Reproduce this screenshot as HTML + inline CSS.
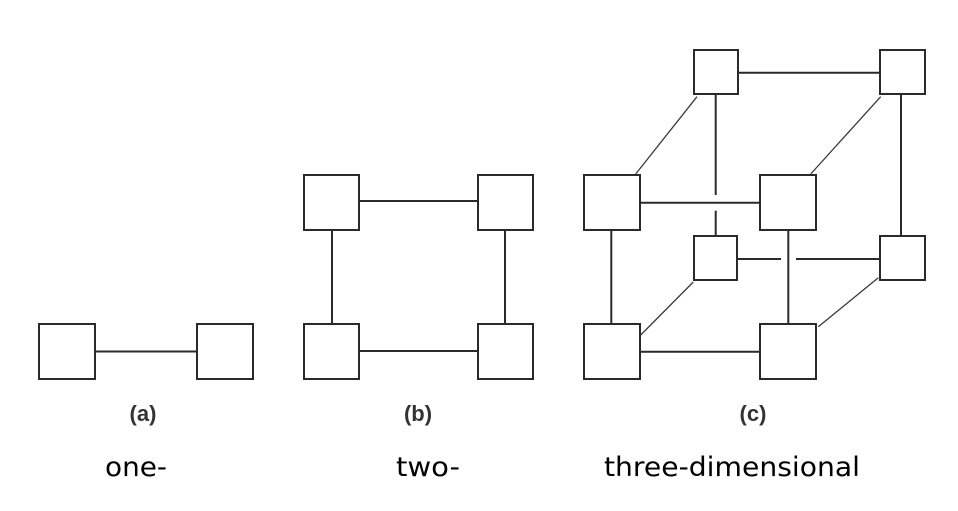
<!DOCTYPE html>
<html><head><meta charset="utf-8"><style>
html,body{margin:0;padding:0;background:#fff;}
svg{display:block;}
</style></head><body>
<svg width="958" height="511" viewBox="0 0 958 511" xmlns="http://www.w3.org/2000/svg">
<rect width="958" height="511" fill="#fff"/>
<g fill="#fff" stroke="#2a2a2a" stroke-width="2">
<!-- (a) -->
<rect x="39" y="324" width="56" height="55"/>
<rect x="197" y="324" width="56" height="55"/>
<!-- (b) -->
<rect x="304" y="175" width="55" height="55"/>
<rect x="478" y="175" width="55" height="55"/>
<rect x="304" y="324" width="55" height="55"/>
<rect x="478" y="324" width="55" height="55"/>
<!-- (c) -->
<rect x="694" y="50" width="44" height="44"/>
<rect x="880" y="50" width="45" height="44"/>
<rect x="584" y="175" width="56" height="55"/>
<rect x="760" y="175" width="56" height="55"/>
<rect x="694" y="236" width="43" height="44"/>
<rect x="880" y="236" width="45" height="44"/>
<rect x="584" y="324" width="56" height="55"/>
<rect x="760" y="324" width="56" height="55"/>
</g>
<g stroke="#2a2a2a" stroke-width="2" fill="none">
<!-- (a) -->
<line x1="96" y1="351.5" x2="196" y2="351.5"/>
<!-- (b) -->
<line x1="360" y1="201" x2="477" y2="201"/>
<line x1="360" y1="351" x2="477" y2="351"/>
<line x1="332" y1="231" x2="332" y2="323"/>
<line x1="505" y1="231" x2="505" y2="323"/>
<!-- (c) -->
<line x1="739" y1="72.7" x2="879" y2="72.7"/>
<line x1="715.7" y1="95" x2="715.7" y2="195"/>
<line x1="715.7" y1="210.7" x2="715.7" y2="235"/>
<line x1="641" y1="202.7" x2="759" y2="202.7"/>
<line x1="901" y1="95" x2="901" y2="235"/>
<line x1="738" y1="259" x2="781" y2="259"/>
<line x1="796" y1="259" x2="879" y2="259"/>
<line x1="788.3" y1="231" x2="788.3" y2="323"/>
<line x1="611.3" y1="231" x2="611.3" y2="323"/>
<line x1="641" y1="351.7" x2="759" y2="351.7"/>
</g>
<g stroke="#3a3a3a" stroke-width="1.3" fill="none">
<line x1="697" y1="96.7" x2="635.7" y2="174"/>
<line x1="880.7" y1="96.7" x2="810.7" y2="174"/>
<line x1="693.3" y1="282" x2="640.7" y2="335"/>
<line x1="878.3" y1="277.7" x2="818.3" y2="326.7"/>
</g>
<g font-family="Liberation Sans, Arial, sans-serif" font-weight="bold" font-size="22" fill="#333" text-anchor="middle">
<text x="143" y="421">(a)</text>
<text x="418" y="421">(b)</text>
<text x="753" y="421">(c)</text>
</g>
<g font-family="DejaVu Sans, Liberation Sans, sans-serif" font-size="27" fill="#000">
<text x="105" y="476" textLength="62" lengthAdjust="spacingAndGlyphs">one-</text>
<text x="396" y="476" textLength="64" lengthAdjust="spacingAndGlyphs">two-</text>
<text x="604" y="476" textLength="256" lengthAdjust="spacingAndGlyphs">three-dimensional</text>
</g>
</svg>
</body></html>
